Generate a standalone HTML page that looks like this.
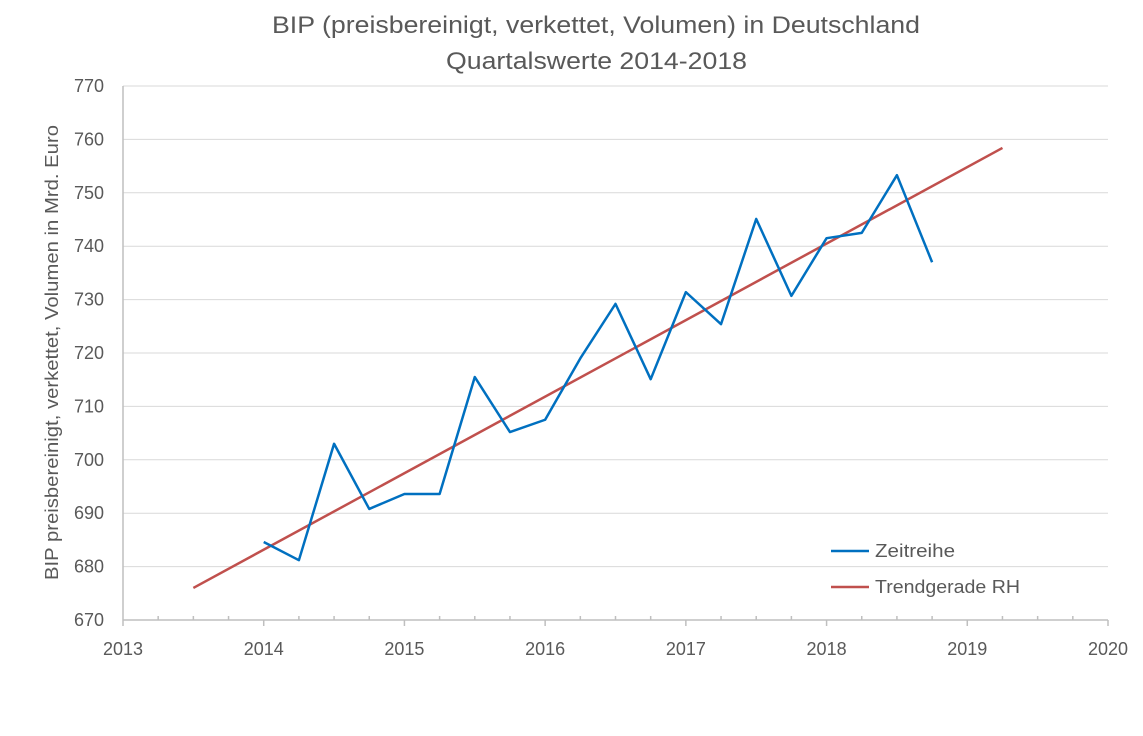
<!DOCTYPE html>
<html><head><meta charset="utf-8"><style>
body{margin:0;background:#fff;width:1143px;height:731px;overflow:hidden}
text{font-family:"Liberation Sans",sans-serif;fill:#595959}
</style></head><body>
<svg id="chart" width="1143" height="731" xmlns="http://www.w3.org/2000/svg">
<text x="272" y="33" font-size="24" textLength="648" lengthAdjust="spacingAndGlyphs">BIP (preisbereinigt, verkettet, Volumen) in Deutschland</text>
<text x="446" y="69" font-size="24" textLength="301" lengthAdjust="spacingAndGlyphs">Quartalswerte 2014-2018</text>
<text transform="translate(58,580) rotate(-90)" font-size="18" textLength="455" lengthAdjust="spacingAndGlyphs">BIP preisbereinigt, verkettet, Volumen in Mrd. Euro</text>
<g id="grid"></g><g id="axes"></g><g id="series"></g>
<g>
<line x1="831" y1="551" x2="869" y2="551" stroke="#0070C0" stroke-width="2.5"/>
<text x="875" y="557" font-size="18" textLength="80" lengthAdjust="spacingAndGlyphs">Zeitreihe</text>
<line x1="831" y1="587" x2="869" y2="587" stroke="#C0504D" stroke-width="2.5"/>
<text x="875" y="593" font-size="18" textLength="145" lengthAdjust="spacingAndGlyphs">Trendgerade RH</text>
</g>
</svg>
<script>
const xTicks=[2013,2014,2015,2016,2017,2018,2019,2020];
const yTicks=[670,680,690,700,710,720,730,740,750,760,770];
const quarters=[2014,2014.25,2014.5,2014.75,2015,2015.25,2015.5,2015.75,2016,2016.25,2016.5,2016.75,2017,2017.25,2017.5,2017.75,2018,2018.25,2018.5,2018.75];
const gdp=[684.6,681.2,703,690.8,693.6,693.6,715.5,705.2,707.5,719,729.2,715.1,731.4,725.4,745.1,730.7,741.5,742.5,753.3,737];
const trendX=[2013.5,2019.25];
const trendY=[676,758.4];
const NS="http://www.w3.org/2000/svg";
const X=v=>123+(v-2013)*(1108-123)/7;
const Y=v=>620-(v-670)*(620-86)/100;
function mk(tag,attrs,parent){const e=document.createElementNS(NS,tag);for(const k in attrs)e.setAttribute(k,attrs[k]);parent.appendChild(e);return e;}
const grid=document.getElementById('grid'),axes=document.getElementById('axes'),series=document.getElementById('series');
yTicks.forEach(v=>{
 if(v>670){const l=mk('line',{x1:123,x2:1108,y1:Y(v),y2:Y(v),stroke:'#d9d9d9','stroke-width':1},grid);
 
 }
 const t=mk('text',{x:104,y:Y(v)+6,'font-size':18,'text-anchor':'end'},axes);t.textContent=v;
 
 
});
const ya=mk('line',{x1:123,x2:123,y1:86,y2:620,stroke:'#bfbfbf','stroke-width':1.5},axes);


const xa=mk('line',{x1:123,x2:1108,y1:620,y2:620,stroke:'#bfbfbf','stroke-width':1.5},axes);


for(let q=2013;q<=2020.001;q+=0.25){
 const major=Math.abs(q-Math.round(q))<1e-6;
 mk('line',{x1:X(q),x2:X(q),y1:major?620:616,y2:major?626:620,stroke:'#bfbfbf','stroke-width':1.5},axes);
}
xTicks.forEach(v=>{const t=mk('text',{x:X(v),y:655,'font-size':18,'text-anchor':'middle'},axes);t.textContent=v;
 
 });
const tr=mk('polyline',{points:trendX.map((x,i)=>X(x)+','+Y(trendY[i])).join(' '),fill:'none',stroke:'#C0504D','stroke-width':2.5},series);


const ln=mk('polyline',{points:quarters.map((x,i)=>X(x)+','+Y(gdp[i])).join(' '),fill:'none',stroke:'#0070C0','stroke-width':2.5,'stroke-linejoin':'round'},series);


</script>
</body></html>
